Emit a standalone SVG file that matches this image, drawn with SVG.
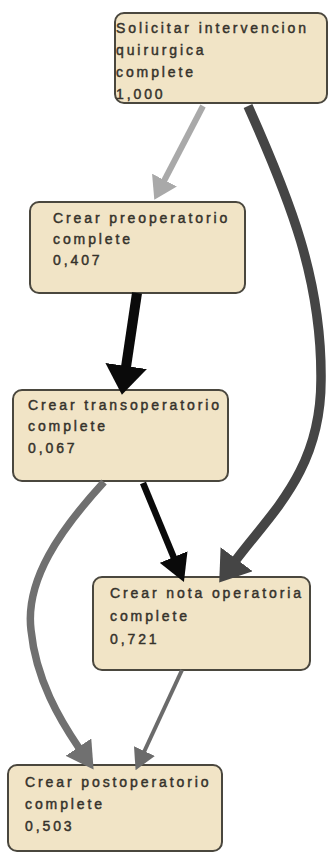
<svg xmlns="http://www.w3.org/2000/svg" width="328" height="855" viewBox="0 0 328 855">
<style>
.box{fill:#f1e4c6;stroke:#4a473e;stroke-width:2}
.t{font-family:"Liberation Sans",Arial,sans-serif;font-size:14px;letter-spacing:2.9px;fill:#35322b;stroke:#35322b;stroke-width:0.45}
.e{fill:none;stroke-linecap:butt}
</style>
<defs>
<marker id="mLight" markerUnits="userSpaceOnUse" viewBox="0 0 22 28" markerWidth="22" markerHeight="28" refX="1" refY="14" orient="auto"><path d="M0,0 L22,14 L0,28 z" fill="#a9a9a9"/></marker>
<marker id="mBlackBig" markerUnits="userSpaceOnUse" viewBox="0 0 29 42" markerWidth="29" markerHeight="42" refX="1" refY="21" orient="auto"><path d="M0,0 L29,21 L0,42 z" fill="#0a0a0a"/></marker>
<marker id="mBlack" markerUnits="userSpaceOnUse" viewBox="0 0 27 30" markerWidth="27" markerHeight="30" refX="1" refY="15" orient="auto"><path d="M0,0 L27,15 L0,30 z" fill="#0a0a0a"/></marker>
<marker id="mDark" markerUnits="userSpaceOnUse" viewBox="0 0 29 40" markerWidth="29" markerHeight="40" refX="1" refY="20" orient="auto"><path d="M0,0 L29,20 L0,40 z" fill="#454545"/></marker>
<marker id="mGray1" markerUnits="userSpaceOnUse" viewBox="0 0 27 31" markerWidth="27" markerHeight="31" refX="1" refY="15.5" orient="auto"><path d="M0,0 L27,15.5 L0,31 z" fill="#707070"/></marker>
<marker id="mGray2" markerUnits="userSpaceOnUse" viewBox="0 0 21 23" markerWidth="21" markerHeight="23" refX="1" refY="11.5" orient="auto"><path d="M0,0 L21,11.5 L0,23 z" fill="#6b6b6b"/></marker>
</defs>
<rect width="328" height="855" fill="#ffffff"/>
<g id="node-solicitar">
<rect class="box" x="115" y="13" width="212" height="90" rx="9"/>
<text class="t" x="116" y="33">Solicitar intervencion</text>
<text class="t" x="116" y="55">quirurgica</text>
<text class="t" x="116" y="77">complete</text>
<text class="t" x="116" y="99">1,000</text>
</g>
<g id="node-preoperatorio">
<rect class="box" x="30" y="202" width="215" height="91" rx="9"/>
<text class="t" x="53" y="223">Crear preoperatorio</text>
<text class="t" x="53" y="244">complete</text>
<text class="t" x="53" y="265">0,407</text>
</g>
<g id="node-transoperatorio">
<rect class="box" x="13" y="390" width="215" height="91" rx="9"/>
<text class="t" x="28" y="410">Crear transoperatorio</text>
<text class="t" x="28" y="431">complete</text>
<text class="t" x="28" y="453">0,067</text>
</g>
<g id="node-nota">
<rect class="box" x="93" y="577" width="217" height="93" rx="9"/>
<text class="t" x="110" y="598">Crear nota operatoria</text>
<text class="t" x="110" y="621">complete</text>
<text class="t" x="110" y="644">0,721</text>
</g>
<g id="node-postoperatorio">
<rect class="box" x="8" y="765" width="214" height="86" rx="9"/>
<text class="t" x="25" y="787">Crear postoperatorio</text>
<text class="t" x="25" y="809">complete</text>
<text class="t" x="25" y="831">0,503</text>
</g>
<g id="connectors">
<path class="e" d="M203,106 L164,181" stroke="#a9a9a9" stroke-width="6" marker-end="url(#mLight)"/>
<path class="e" d="M248,106 C290,200 322,280 321,380 C321,470 272,512 236,560" stroke="#454545" stroke-width="9.5" marker-end="url(#mDark)"/>
<path class="e" d="M137,293 L126,367" stroke="#0a0a0a" stroke-width="10" marker-end="url(#mBlackBig)"/>
<path class="e" d="M143,483 L174,558" stroke="#0a0a0a" stroke-width="6.5" marker-end="url(#mBlack)"/>
<path class="e" d="M104,482 C60,530 25,580 31,630 C36,680 60,720 79,748" stroke="#707070" stroke-width="7.5" marker-end="url(#mGray1)"/>
<path class="e" d="M182,670 L144,752" stroke="#6b6b6b" stroke-width="4" marker-end="url(#mGray2)"/>
</g>
</svg>
